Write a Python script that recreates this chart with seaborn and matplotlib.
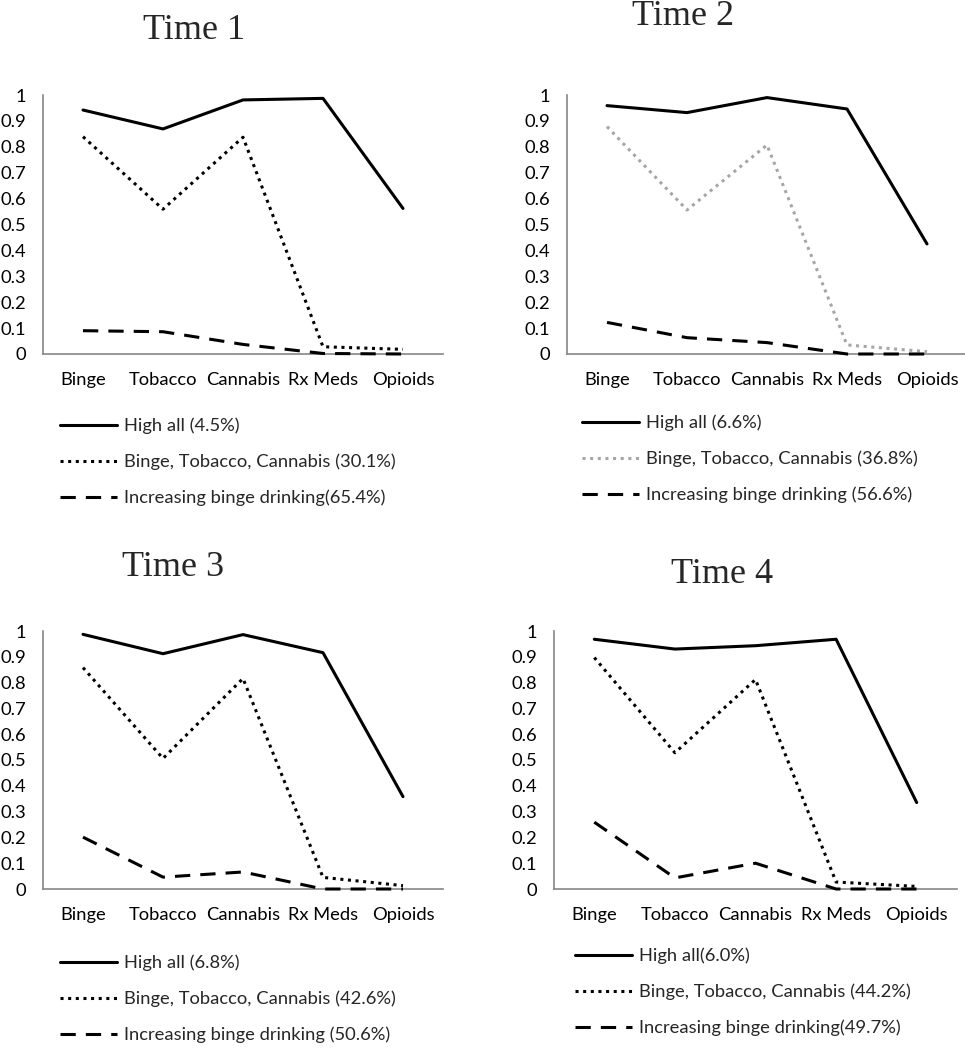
import seaborn as sns
import matplotlib.pyplot as plt
import pandas as pd

sns.set_theme(style="white")
plt.rcParams['font.family'] = ['Lato', 'DejaVu Sans']

substances = ["Binge", "Tobacco", "Cannabis", "Rx Meds", "Opioids"]
classes = ["High all", "Binge, Tobacco, Cannabis", "Increasing binge drinking"]

high_t1 = [0.942, 0.869, 0.981, 0.987, 0.562]
btc_t1 = [0.839, 0.559, 0.837, 0.028, 0.018]
inc_t1 = [0.090, 0.086, 0.037, 0.002, 0.0]

high_t2 = [0.959, 0.932, 0.990, 0.946, 0.425]
btc_t2 = [0.878, 0.556, 0.807, 0.035, 0.009]
inc_t2 = [0.122, 0.063, 0.044, 0.0, 0.0]

high_t3 = [0.987, 0.912, 0.986, 0.916, 0.358]
btc_t3 = [0.858, 0.506, 0.816, 0.045, 0.013]
inc_t3 = [0.201, 0.046, 0.066, 0.0, 0.0]

high_t4 = [0.968, 0.930, 0.943, 0.968, 0.335]
btc_t4 = [0.897, 0.528, 0.812, 0.027, 0.010]
inc_t4 = [0.259, 0.043, 0.100, 0.0, 0.0]

titles = ["Time 1", "Time 2", "Time 3", "Time 4"]
legend_t1 = ["High all (4.5%)", "Binge, Tobacco, Cannabis (30.1%)", "Increasing binge drinking(65.4%)"]
legend_t2 = ["High all (6.6%)", "Binge, Tobacco, Cannabis (36.8%)", "Increasing binge drinking (56.6%)"]
legend_t3 = ["High all (6.8%)", "Binge, Tobacco, Cannabis (42.6%)", "Increasing binge drinking (50.6%)"]
legend_t4 = ["High all(6.0%)", "Binge, Tobacco, Cannabis (44.2%)", "Increasing binge drinking(49.7%)"]

panels = [
    (high_t1, btc_t1, inc_t1, legend_t1, "black"),
    (high_t2, btc_t2, inc_t2, legend_t2, "#a6a6a6"),
    (high_t3, btc_t3, inc_t3, legend_t3, "black"),
    (high_t4, btc_t4, inc_t4, legend_t4, "black"),
]

# layout in pixels: axes (left, top, right, bottom), title (x, baseline), legend (x, middle row y)
W, H = 965, 1050
axes_px = [(43, 95, 443, 354), (567, 95, 967, 354), (43, 631, 443, 889), (554, 631, 957, 889)]
title_px = [(194, 39), (683, 25), (173, 576), (722, 583)]
legend_px = [(60, 462), (582, 459), (60, 999), (575, 992)]

fig = plt.figure(figsize=(W / 100, H / 100), dpi=100)
fs = 13.2

for i, (high, btc, inc, leg_labels, btc_color) in enumerate(panels):
    l, t, r, b = axes_px[i]
    ax = fig.add_axes([l / W, 1 - b / H, (r - l) / W, (b - t) / H])

    df = pd.DataFrame({
        "x": list(range(5)) * 3,
        "value": high + btc + inc,
        "Class": [c for c in classes for _ in range(5)],
    })
    sns.lineplot(data=df, x="x", y="value", hue="Class", style="Class",
                 hue_order=classes, style_order=classes,
                 palette={classes[0]: "black", classes[1]: btc_color, classes[2]: "black"},
                 dashes={classes[0]: "", classes[1]: (1, 1.5), classes[2]: (5, 3.3)},
                 linewidth=2.2, sort=False, legend=False, clip_on=False, zorder=3, ax=ax)

    ax.set_xlim(-0.5, 4.5)
    ax.set_ylim(0, 1)
    ax.set_xticks(range(5))
    ax.set_xticklabels(substances)
    yt = [k / 10 for k in range(11)]
    ax.set_yticks(yt)
    ax.set_yticklabels([f"{v:g}" for v in yt])
    ax.tick_params(axis="both", length=0, labelsize=fs, colors="black")
    ax.tick_params(axis="y", pad=12)
    ax.tick_params(axis="x", pad=13)
    ax.set_xlabel("")
    ax.set_ylabel("")
    for s in ["top", "right"]:
        ax.spines[s].set_visible(False)
    for s in ["left", "bottom"]:
        ax.spines[s].set_color("#868686")
        ax.spines[s].set_linewidth(1.2)

    tx, ty = title_px[i]
    fig.text(tx / W, 1 - ty / H, titles[i], ha="center", va="baseline",
             fontsize=26, family=["Liberation Serif", "DejaVu Serif"])

    lx, ly = legend_px[i]
    ax.legend(ax.get_lines(), leg_labels, loc="center left",
              bbox_to_anchor=(lx / W, 1 - ly / H), bbox_transform=fig.transFigure,
              frameon=False, fontsize=fs, handlelength=3.1, handletextpad=0.4,
              labelspacing=1.05, borderpad=0, borderaxespad=0)

fig.savefig("out.png", dpi=100)
